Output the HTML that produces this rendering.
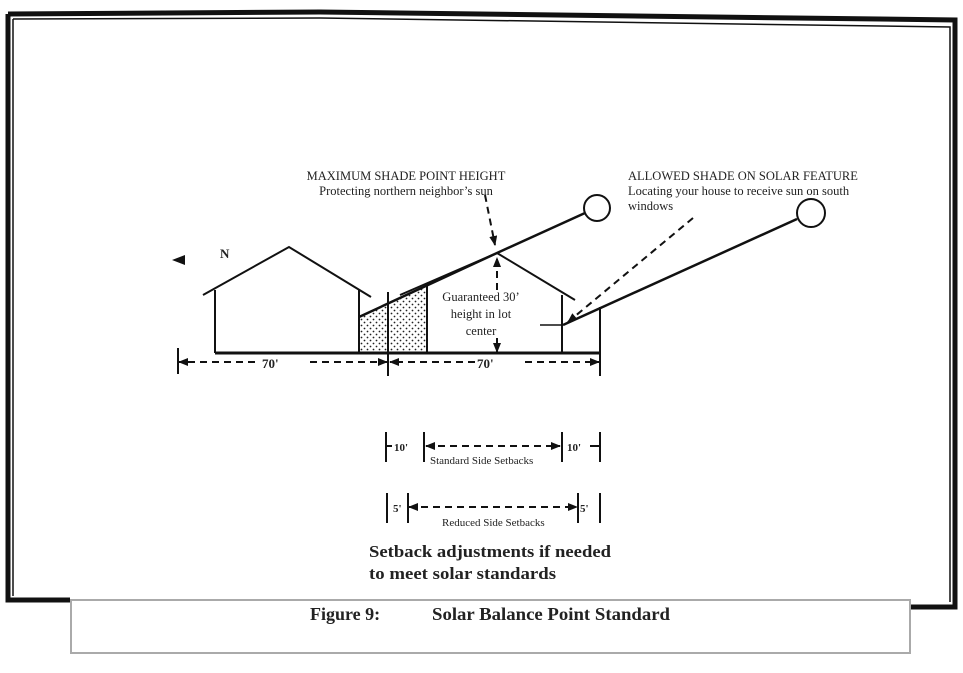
<!DOCTYPE html>
<html><head><style>
body{margin:0;background:#fff;}
svg{display:block;}
text{font-family:"Liberation Serif",serif;fill:#222;}
</style></head><body>
<svg width="963" height="673" viewBox="0 0 963 673" xmlns="http://www.w3.org/2000/svg">
<defs>
<pattern id="dots" width="6" height="6" patternUnits="userSpaceOnUse">
<circle cx="1.5" cy="1.5" r="0.9" fill="#222"/><circle cx="4.5" cy="4.5" r="0.9" fill="#222"/>
</pattern>
<marker id="ah" markerWidth="10" markerHeight="8" refX="9" refY="4" orient="auto-start-reverse" markerUnits="userSpaceOnUse">
<path d="M0,0 L10,4 L0,8 Z" fill="#111"/></marker>
</defs>
<!-- frame -->
<path d="M8,14 L320,12 L955,20 L955,607 L910,607" fill="none" stroke="#111" stroke-width="5"/>
<path d="M8,14 L8,600 L70,600" fill="none" stroke="#111" stroke-width="5"/>
<path d="M13,19 L13,596 M13,19 L320,18 L950,27 L950,602" fill="none" stroke="#111" stroke-width="1.5"/>
<rect x="71" y="600" width="839" height="53" fill="#fff" stroke="#aaa" stroke-width="2"/>
<text x="310" y="620" font-size="18" font-weight="bold">Figure 9:</text>
<text x="432" y="620" font-size="18" font-weight="bold" textLength="238" lengthAdjust="spacingAndGlyphs">Solar Balance Point Standard</text>
<!-- north -->
<path d="M172,260 L185,255 L185,265 Z" fill="#111"/>
<text x="220" y="258" font-size="13" font-weight="bold">N</text>
<!-- stipple -->
<path d="M359,317 L388,303 L388,353 L359,353 Z" fill="url(#dots)"/>
<path d="M390,302 L427,285 L427,353 L390,353 Z" fill="url(#dots)"/>
<g stroke="#111" fill="none" stroke-width="2">
<path d="M203,295 L289,247 L371,297"/>
<path d="M215,290 L215,353 M359,290 L359,353"/>
<path d="M215,353 L600,353" stroke-width="3"/>
<path d="M400,295 L497,253 L575,300"/>
<path d="M562,295 L562,353 M427,286 L427,353"/>
<path d="M359,317 L497,253 L585,213" stroke-width="2.5"/>
<circle cx="597" cy="208" r="13"/>
<circle cx="811" cy="213" r="14"/>
<path d="M797,219 L563,325" stroke-width="2.5"/>
<path d="M540,325 L563,325" stroke-width="1.5"/>
<path d="M600,307 L600,376"/>
<path d="M388,292 L388,376"/>
<path d="M178,348 L178,374"/>
</g>
<g stroke="#111" fill="none" stroke-width="2" stroke-dasharray="7,5">
<path d="M693,218 L568,322" marker-end="url(#ah)"/>
<path d="M485,195 L495,245" marker-end="url(#ah)"/>
<path d="M497,290 L497,258" marker-end="url(#ah)"/>
<path d="M497,338 L497,352" stroke-dasharray="none" marker-end="url(#ah)"/>
<path d="M255,362 L179,362" marker-end="url(#ah)"/>
<path d="M310,362 L387,362" marker-end="url(#ah)"/>
<path d="M475,362 L390,362" marker-end="url(#ah)"/>
<path d="M525,362 L599,362" marker-end="url(#ah)"/>
<path d="M426,446 L560,446" marker-start="url(#ah)" marker-end="url(#ah)"/>
<path d="M409,507 L577,507" marker-start="url(#ah)" marker-end="url(#ah)"/>
</g>
<g stroke="#111" stroke-width="2">
<path d="M386,432 L386,462 M424,432 L424,462 M562,432 L562,462 M600,432 L600,462"/>
<path d="M386,446 L392,446 M590,446 L600,446"/>
<path d="M387,493 L387,523 M408,493 L408,523 M578,493 L578,523 M600,493 L600,523"/>
</g>
<text x="262" y="368" font-size="13" font-weight="bold">70'</text>
<text x="477" y="368" font-size="13" font-weight="bold">70'</text>
<text x="394" y="451" font-size="11" font-weight="bold">10'</text>
<text x="567" y="451" font-size="11" font-weight="bold">10'</text>
<text x="430" y="464" font-size="11">Standard Side Setbacks</text>
<text x="393" y="512" font-size="11" font-weight="bold">5'</text>
<text x="580" y="512" font-size="11" font-weight="bold">5'</text>
<text x="442" y="526" font-size="11">Reduced Side Setbacks</text>
<text x="406" y="180" font-size="12.5" text-anchor="middle">MAXIMUM SHADE POINT HEIGHT</text>
<text x="406" y="195" font-size="12.5" text-anchor="middle">Protecting northern neighbor’s sun</text>
<text x="628" y="180" font-size="12.5">ALLOWED SHADE ON SOLAR FEATURE</text>
<text x="628" y="195" font-size="12.5">Locating your house to receive sun on south</text>
<text x="628" y="210" font-size="12.5">windows</text>
<text x="481" y="301" font-size="12.5" text-anchor="middle">Guaranteed 30’</text>
<text x="481" y="318" font-size="12.5" text-anchor="middle">height in lot</text>
<text x="481" y="335" font-size="12.5" text-anchor="middle">center</text>
<text x="369" y="557" font-size="17" font-weight="bold" font-family="Liberation Sans" textLength="242" lengthAdjust="spacingAndGlyphs">Setback adjustments if needed</text>
<text x="369" y="579" font-size="17" font-weight="bold" font-family="Liberation Sans" textLength="187" lengthAdjust="spacingAndGlyphs">to meet solar standards</text>
</svg>
</body></html>
